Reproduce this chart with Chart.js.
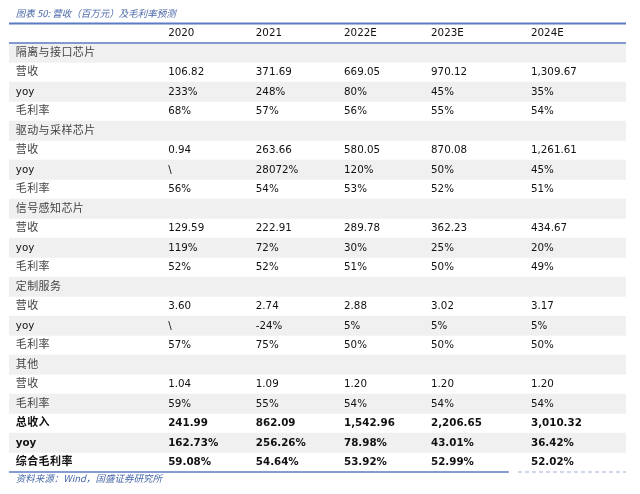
<!DOCTYPE html>
<html><head><meta charset="utf-8">
<script src="https://cdn.jsdelivr.net/npm/chart.js@4"></script>
<style>html,body{margin:0;padding:0;background:#fff}#wrap{position:relative;width:640px;height:494px}#wrap canvas{display:block}</style>
</head><body><div id="wrap"><canvas id="c"></canvas></div>
<script>
// ---- data ----
const titleText = '图表 50: 营收（百万元）及毛利率预测';
const sourceText = '资料来源：Wind，国盛证券研究所';
const years = ['2020', '2021', '2022E', '2023E', '2024E'];

const isoRevenue = [106.82, 371.69, 669.05, 970.12, 1309.67];
const isoYoy = [233, 248, 80, 45, 35];
const isoMargin = [68, 57, 56, 55, 54];

const drvRevenue = [0.94, 263.66, 580.05, 870.08, 1261.61];
const drvYoy = [null, 28072, 120, 50, 45];
const drvMargin = [56, 54, 53, 52, 51];

const sigRevenue = [129.59, 222.91, 289.78, 362.23, 434.67];
const sigYoy = [119, 72, 30, 25, 20];
const sigMargin = [52, 52, 51, 50, 49];

const svcRevenue = [3.60, 2.74, 2.88, 3.02, 3.17];
const svcYoy = [null, -24, 5, 5, 5];
const svcMargin = [57, 75, 50, 50, 50];

const othRevenue = [1.04, 1.09, 1.20, 1.20, 1.20];
const othMargin = [59, 55, 54, 54, 54];

const totalRevenue = [241.99, 862.09, 1542.96, 2206.65, 3010.32];
const totalYoy = [162.73, 256.26, 78.98, 43.01, 36.42];
const totalMargin = [59.08, 54.64, 53.92, 52.99, 52.02];

// ---- formatting ----
const fmtNum = v => v == null ? '\\' : v.toLocaleString('en-US', {minimumFractionDigits: 2, maximumFractionDigits: 2});
const fmtPct0 = v => v == null ? '\\' : v.toFixed(0) + '%';
const fmtPct2 = v => v == null ? '\\' : v.toFixed(2) + '%';

const rows = [
  {label: '隔离与接口芯片', vals: null},
  {label: '营收', vals: isoRevenue, fmt: fmtNum},
  {label: 'yoy', vals: isoYoy, fmt: fmtPct0},
  {label: '毛利率', vals: isoMargin, fmt: fmtPct0},
  {label: '驱动与采样芯片', vals: null},
  {label: '营收', vals: drvRevenue, fmt: fmtNum},
  {label: 'yoy', vals: drvYoy, fmt: fmtPct0},
  {label: '毛利率', vals: drvMargin, fmt: fmtPct0},
  {label: '信号感知芯片', vals: null},
  {label: '营收', vals: sigRevenue, fmt: fmtNum},
  {label: 'yoy', vals: sigYoy, fmt: fmtPct0},
  {label: '毛利率', vals: sigMargin, fmt: fmtPct0},
  {label: '定制服务', vals: null},
  {label: '营收', vals: svcRevenue, fmt: fmtNum},
  {label: 'yoy', vals: svcYoy, fmt: fmtPct0},
  {label: '毛利率', vals: svcMargin, fmt: fmtPct0},
  {label: '其他', vals: null},
  {label: '营收', vals: othRevenue, fmt: fmtNum},
  {label: '毛利率', vals: othMargin, fmt: fmtPct0},
  {label: '总收入', vals: totalRevenue, fmt: fmtNum, bold: true},
  {label: 'yoy', vals: totalYoy, fmt: fmtPct2, bold: true},
  {label: '综合毛利率', vals: totalMargin, fmt: fmtPct2, bold: true}
];
const rowLabels = rows.map(r => r.label);

// ---- layout/style constants ----
const X_MAX = 100;
const COL_X = [1.1, 25.8, 40.0, 54.3, 68.4, 84.6]; // text left position in x-scale units
const LINE_COLOR = '#5b7bc4';
const TITLE_COLOR = '#4a68a8';
const STRIPE = '#f0f0f0';
const NUM_FONT = '"DejaVu Sans", Verdana, sans-serif';
const CJK_FONT = '"Noto Sans CJK SC", sans-serif';

function isCJK(s) { return /[\u4e00-\u9fff]/.test(s); }

const tablePlugin = {
  id: 'tableText',
  afterDatasetsDraw(chart) {
    const ctx = chart.ctx;
    const xs = chart.scales.x, ys = chart.scales.y;
    const area = chart.chartArea;
    const rowH = ys.getPixelForValue(1) - ys.getPixelForValue(0);
    const headerY = ys.getPixelForValue(0) - rowH;
    const topLine = area.top - rowH;
    ctx.save();
    // lines
    ctx.strokeStyle = LINE_COLOR;
    ctx.lineWidth = 2;
    ctx.beginPath(); ctx.moveTo(area.left, topLine); ctx.lineTo(area.right, topLine); ctx.stroke();
    ctx.lineWidth = 1.6;
    ctx.beginPath(); ctx.moveTo(area.left, area.top); ctx.lineTo(area.right, area.top); ctx.stroke();
    ctx.beginPath(); ctx.moveTo(area.left, area.bottom); ctx.lineTo(xs.getPixelForValue(81), area.bottom); ctx.stroke();
    ctx.strokeStyle = '#9fb0d8';
    ctx.lineWidth = 1.2;
    ctx.setLineDash([4, 3]);
    ctx.beginPath(); ctx.moveTo(xs.getPixelForValue(82.5), area.bottom); ctx.lineTo(area.right, area.bottom); ctx.stroke();
    ctx.setLineDash([]);

    ctx.textBaseline = 'middle';
    ctx.textAlign = 'left';
    // header
    ctx.fillStyle = '#111';
    ctx.font = '10.3px ' + NUM_FONT;
    years.forEach((y, i) => ctx.fillText(y, xs.getPixelForValue(COL_X[i + 1]), headerY + 0.5));
    // rows
    rows.forEach((r, ri) => {
      const cy = ys.getPixelForValue(ri) + 0.5;
      const lx = xs.getPixelForValue(COL_X[0]);
      if (isCJK(r.label)) {
        ctx.font = (r.bold ? 'bold ' : '') + '11px ' + CJK_FONT;
        ctx.fillStyle = r.bold ? '#111' : '#444';
        ctx.letterSpacing = '0.4px';
        ctx.fillText(r.label, lx, cy - 1.5);
      } else {
        ctx.font = (r.bold ? 'bold ' : '') + '10.3px ' + NUM_FONT;
        ctx.fillStyle = '#111';
        ctx.letterSpacing = '0px';
        ctx.fillText(r.label, lx, cy);
      }
      ctx.letterSpacing = '0px';
      if (r.vals) {
        ctx.font = (r.bold ? 'bold ' : '') + '10.3px ' + NUM_FONT;
        ctx.fillStyle = '#111';
        r.vals.forEach((v, ci) => ctx.fillText(r.fmt(v), xs.getPixelForValue(COL_X[ci + 1]), cy));
      }
    });
    // title & source
    ctx.fillStyle = TITLE_COLOR;
    ctx.font = 'italic 9.5px ' + CJK_FONT;
    ctx.fillText(titleText, xs.getPixelForValue(COL_X[0]), topLine - 10);
    ctx.fillText(sourceText, xs.getPixelForValue(COL_X[0]), area.bottom + 6.5);
    ctx.restore();
  }
};

new Chart(document.getElementById('c'), {
  type: 'bar',
  data: {
    labels: rowLabels,
    datasets: [{
      data: rowLabels.map((_, i) => i % 2 === 0 ? X_MAX : null),
      backgroundColor: STRIPE,
      borderWidth: 0,
      barPercentage: 1,
      categoryPercentage: 1
    }]
  },
  options: {
    indexAxis: 'y',
    responsive: true,
    maintainAspectRatio: false,
    animation: false,
    layout: {padding: {left: 9, right: 14, top: 43, bottom: 22}},
    scales: {
      x: {type: 'linear', min: 0, max: X_MAX, display: false},
      y: {type: 'category', display: false}
    },
    plugins: {legend: {display: false}, tooltip: {enabled: false}}
  },
  plugins: [tablePlugin]
});
</script>
</body></html>
